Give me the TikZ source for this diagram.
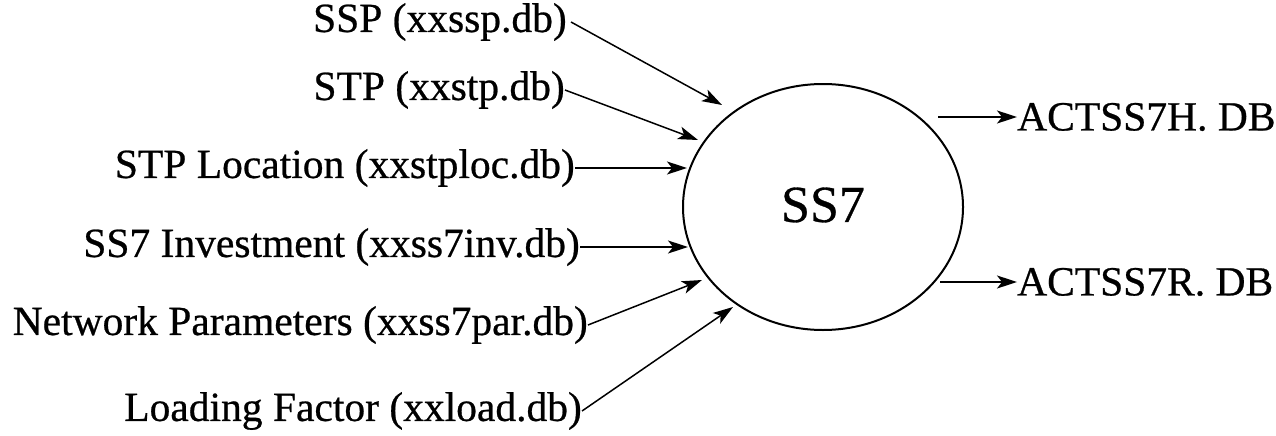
\documentclass[tikz,border=0pt]{standalone}
\usepackage{fontspec}
\setmainfont{Liberation Serif}[FakeBold=0.6]
\usetikzlibrary{arrows.meta,shapes.geometric}
\begin{document}
\begin{tikzpicture}[x=1pt,y=-1pt,
  lbl/.style={inner sep=0pt,font=\fontsize{41.5}{42}\selectfont},
  feed/.style={line width=1.5pt,-{Stealth[length=20pt,width=13pt,inset=5pt]}},
  hub/.style={draw,ellipse,line width=2pt,minimum width=280pt,minimum height=246pt,inner sep=0pt}]
\useasboundingbox (0,0) rectangle (1276,436);
% central process
\node[hub] (ss7) at (823,207) {};
\node[lbl,font=\fontsize{52}{52}\selectfont] (ss7t) at (823,205) {SS7};
% input files
\node[lbl,anchor=east] (ssp) at (567,22) {SSP (xxssp.db)};
\node[lbl,anchor=east] (stp) at (565,90) {STP (xxstp.db)};
\node[lbl,anchor=east] (loc) at (575,168) {STP Location (xxstploc.db)};
\node[lbl,anchor=east] (inv) at (580,247) {SS7 Investment (xxss7inv.db)};
\node[lbl,anchor=east] (par) at (588,325) {Network Parameters (xxss7par.db)};
\node[lbl,anchor=east] (load) at (582,411) {Loading Factor (xxload.db)};
% output files
\node[lbl,anchor=west] (outh) at (1017,117) {ACTSS7H. DB};
\node[lbl,anchor=west] (outr) at (1017,282) {ACTSS7R. DB};
% arrow ends near the ellipse
\coordinate (t1) at (722,105);
\coordinate (t2) at (698,140);
\coordinate (t3) at (687,172);
\coordinate (t4) at (688,250);
\coordinate (t5) at (702,280);
\coordinate (t6) at (733,307);
\coordinate (s7) at (938,117);
\coordinate (s8) at (940,282);
\draw[feed] (ssp.east) ++(4,0) -- (t1);
\draw[feed] (stp.east) -- (t2);
\draw[feed] (loc.east) -- (loc.east -| t3);
\draw[feed] (inv.east) -- (inv.east -| t4);
\draw[feed] (par.east) -- (t5);
\draw[feed] (load.east) -- (t6);
\draw[feed] (s7) -- (outh.west);
\draw[feed] (s8) -- (outr.west);
\end{tikzpicture}
\end{document}
